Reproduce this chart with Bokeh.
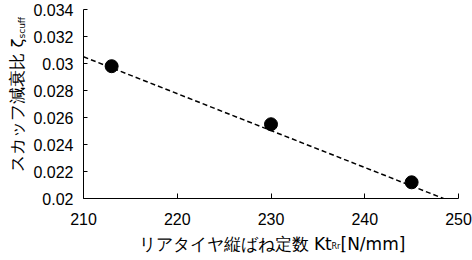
import math
from bokeh.plotting import figure
from bokeh.models import Range1d, FixedTicker, Label
from bokeh.embed import file_html
from bokeh.resources import INLINE

# data
kt = [213, 230, 245]
zeta = [0.0298, 0.0255, 0.0212]
trend_kt = [210, 248.4]
trend_zeta = [0.0305, 0.0200]
x_ticks = [210, 220, 230, 240, 250]
y_ticks = [0.02, 0.022, 0.024, 0.026, 0.028, 0.03, 0.032, 0.034]
y_tick_labels = ["0.02", "0.022", "0.024", "0.026", "0.028", "0.03", "0.032", "0.034"]

LBL = "DejaVu Sans"
NUM = "Liberation Sans"

p = figure(width=472, height=260, output_backend="svg", toolbar_location=None,
           x_range=Range1d(210, 250), y_range=Range1d(0.02, 0.034),
           min_border_left=83, min_border_right=14, min_border_top=9, min_border_bottom=62)
p.outline_line_color = None
p.grid.grid_line_color = None
p.background_fill_color = "white"
p.border_fill_color = "white"

p.line(trend_kt, trend_zeta, line_color="black", line_width=1.5, line_dash="5 3")
p.scatter(kt, zeta, size=13, color="black")

xa = p.xaxis[0]
xa.ticker = FixedTicker(ticks=x_ticks)
xa.minor_tick_line_color = None
xa.major_tick_in = 5
xa.major_tick_out = 0
xa.major_label_standoff = 14
xa.major_label_text_font = NUM
xa.major_label_text_font_size = "16px"
xa.major_label_text_color = "black"
xa.axis_line_color = "black"

ya = p.yaxis[0]
ya.ticker = FixedTicker(ticks=y_ticks)
ya.major_label_overrides = {t: l for t, l in zip(y_ticks, y_tick_labels)}
ya.minor_tick_line_color = None
ya.major_tick_in = 4
ya.major_tick_out = 0
ya.major_label_standoff = 10
ya.major_label_text_font = NUM
ya.major_label_text_font_size = "16px"
ya.major_label_text_color = "black"
ya.axis_line_color = "black"

# x-axis label: "リアタイヤ縦ばね定数 Kt" + subscript "Rr" + "[N/mm]"
p.add_layout(Label(x=210, y=0.02, x_offset=55, y_offset=-45,
                   text="リアタイヤ縦ばね定数 Kt\u00a0\u2009[N/mm]",
                   text_align="left", text_baseline="middle",
                   text_font=LBL, text_font_size="17px", text_color="black"), "below")
p.add_layout(Label(x=210, y=0.02, x_offset=248, y_offset=-48,
                   text="Rr", text_align="left", text_baseline="middle",
                   text_font=LBL, text_font_size="8px", text_color="black"), "below")

# y-axis label with subscript (rotated)
p.add_layout(Label(x=210, y=0.034, x_offset=-66, y_offset=-29, angle=math.pi / 2,
                   text="スカッフ減衰比 ζ", text_align="right", text_baseline="middle",
                   text_font=LBL, text_font_size="16.5px", text_color="black"), "left")
p.add_layout(Label(x=210, y=0.034, x_offset=-62, y_offset=-29, angle=math.pi / 2,
                   text="scuff", text_align="left", text_baseline="middle",
                   text_font=LBL, text_font_size="9px", text_color="black"), "right")

open("out.html", "w").write(file_html(p, INLINE))
